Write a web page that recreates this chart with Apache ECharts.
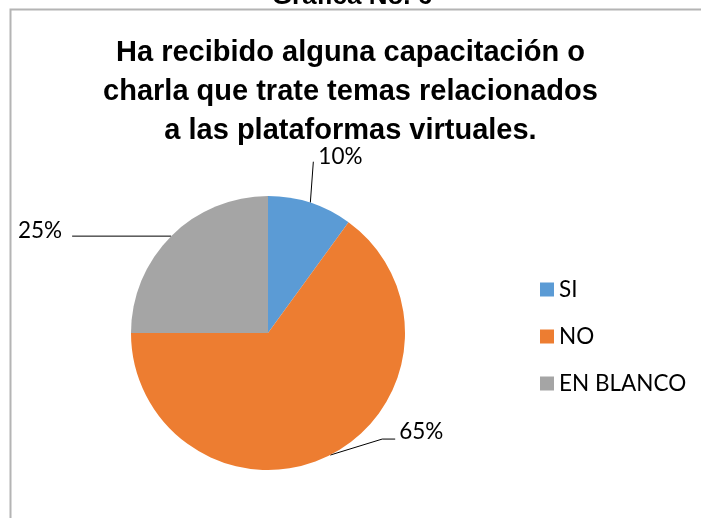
<!DOCTYPE html>
<html><head><meta charset="utf-8">
<script src="https://cdn.jsdelivr.net/npm/echarts@6/dist/echarts.min.js"></script>
<style>html,body{margin:0;padding:0;background:#fff}#c{width:701px;height:518px}</style>
</head><body><div id="c"></div>
<script>
const categories = ['SI', 'NO', 'EN BLANCO'];
const values = [10, 65, 25];
const colors = ['#5B9BD5', '#ED7D31', '#A5A5A5'];
// leader-line offsets relative to the arc point given by the library
const leader = [
  {p1: [3, -41], p2: [0, 0], lab: [5, -5], align: 'left'},
  {p1: [52, -16], p2: [13, 0], lab: [4, -7], align: 'left'},
  {p1: [-99, 0], p2: [0, 0], lab: [-10, -5], align: 'right'}
];
const chart = echarts.init(document.getElementById('c'));
const labelFont = 'Lato, "Open Sans", sans-serif';
chart.setOption({
  animation: false,
  graphic: [
    {type: 'polyline', shape: {points: [[10.5, 700], [10.5, 9.5], [900, 9.5]]}, style: {fill: 'none', stroke: '#B4B4B4', lineWidth: 2}},
    {type: 'text', style: {x: 352, y: 10, text: 'Gráfica No. 6', textAlign: 'center', textVerticalAlign: 'bottom', font: 'bold 26px "Liberation Sans", Arial, sans-serif', fill: '#000'}}
  ],
  title: {
    text: 'Ha recibido alguna capacitación o\ncharla que trate temas relacionados\na las plataformas virtuales.',
    left: 'center', top: 28,
    textStyle: {fontFamily: '"Liberation Sans", Arial, sans-serif', fontWeight: 'bold', fontSize: 29, lineHeight: 39, color: '#000'}
  },
  legend: {
    orient: 'vertical', left: 535, top: 273,
    itemWidth: 14, itemHeight: 14, itemGap: 24,
    icon: 'rect',
    textStyle: {fontFamily: labelFont, fontSize: 22.5, color: '#000'},
    data: categories
  },
  series: [{
    type: 'pie',
    center: [268, 333],
    radius: 137,
    startAngle: 90,
    clockwise: true,
    avoidLabelOverlap: false,
    label: {formatter: '{c}%', fontFamily: labelFont, fontSize: 22.5, color: '#000'},
    labelLine: {length: 20, length2: 10, lineStyle: {color: '#000', width: 1}},
    itemStyle: {borderWidth: 0},
    labelLayout: function (p) {
      const pts = p.labelLinePoints;
      if (!pts) return {};
      const L = leader[p.dataIndex];
      const s = pts[0];
      const a = [s[0] + L.p1[0], s[1] + L.p1[1]];
      const b = [a[0] + L.p2[0], a[1] + L.p2[1]];
      return {
        x: b[0] + L.lab[0], y: b[1] + L.lab[1],
        align: L.align, verticalAlign: 'middle',
        labelLinePoints: [s, a, b]
      };
    },
    data: categories.map((n, i) => ({
      name: n, value: values[i],
      itemStyle: {color: colors[i]}
    }))
  }]
});
</script></body></html>
